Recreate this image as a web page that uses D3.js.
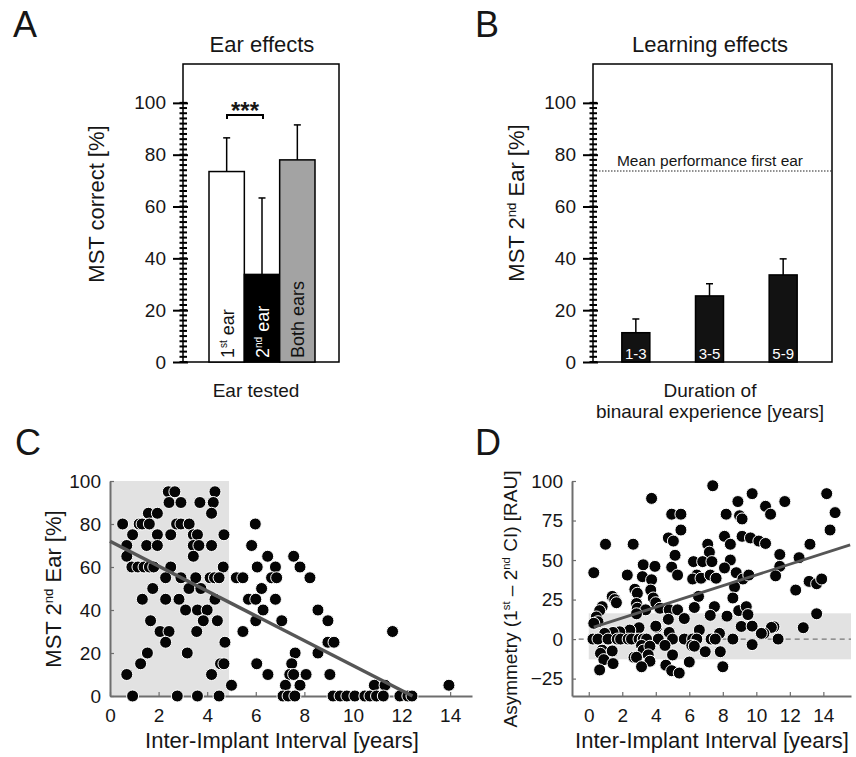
<!DOCTYPE html>
<html>
<head>
<meta charset="utf-8">
<title>MST ear effects</title>
<script src="https://d3js.org/d3.v7.min.js"></script>
<style>
  body { margin: 0; background: #fff; }
  svg text { font-family: "Liberation Sans", Arial, sans-serif; fill: #161616; }
</style>
</head>
<body>
<svg width="856" height="757"></svg>
<script>
// ---- data ----
// A: ear effects
var earCats = ["1st ear", "2nd ear", "Both ears"];
var earMean = [73.5, 33.8, 78];
var earSd = [13, 29.5, 13.5];
// B: learning effects
var learnCats = ["1-3", "3-5", "5-9"];
var learnMean = [11.3, 25.5, 33.6];
var learnSd = [5.3, 4.7, 6.2];
var firstEarMean = 73.7;
var abTicks = [0, 20, 40, 60, 80, 100];

// C: MST 2nd ear vs inter-implant interval  [years, %]
var cPoints = [
  [2.4,95],[2.67,95],[4.32,95],
  [2.43,90],[2.92,90],[3.7,90],[4.25,90],
  [1.58,85],[1.95,85],[4.18,85],
  [0.52,80],[1.2,80],[1.32,80],[1.62,80],[2.74,80],[2.92,80],[3.26,80],[5.98,80],
  [0.93,75],[1.95,75],[2.5,75],[3.43,75],[3.6,75],[4.69,75],
  [0.69,70],[1.51,70],[1.95,70],[3.43,70],[3.66,70],[4.18,70],[5.83,70],
  [0.69,65],[3.43,65],[6.49,65],[7.56,65],
  [0.9,60],[1.15,60],[1.4,60],[1.62,60],[1.8,60],[2.5,60],[4.66,60],[6.06,60],[6.81,60],[7.82,60],
  [2.29,55],[2.92,55],[3.53,55],[4.12,55],[4.3,55],[4.49,55],[5.2,55],[5.47,55],[6.65,55],[6.86,55],[8.23,55],
  [1.76,50],[3.25,50],[3.74,50],[6.24,50],
  [1.33,45],[2.29,45],[2.84,45],[4.32,45],[5.7,45],[6.0,45],[6.81,45],
  [3.11,40],[3.6,40],[4.0,40],[6.3,40],[8.56,40],
  [1.67,35],[3.84,35],[4.42,35],[6.0,35],[7.07,35],[8.97,35],
  [2.06,30],[2.43,30],[3.57,30],[5.47,30],[11.63,30],
  [2.29,25],[4.73,25],[8.97,25],[9.22,25],
  [1.54,20],[3.18,20],[7.62,20],[8.56,20],
  [1.26,15],[4.55,15],[4.69,15],[6.04,15],[7.48,15],
  [0.69,10],[4.18,10],[6.5,10],[7.4,10],[7.56,10],[8.07,10],[9.05,10],
  [5.0,5],[7.22,5],[7.82,5],[10.88,5],[11.32,5],[13.95,5],
  [0.93,0],[2.77,0],[3.6,0],[4.49,0],[7.12,0],[7.33,0],[7.61,0],[9.18,0],[9.47,0],[9.75,0],
  [10.08,0],[10.49,0],[10.7,0],[10.97,0],[11.25,0],[11.93,0],[12.26,0],[12.43,0]
];
var cFit = [[0, 72], [12.45, 0]];
var cShadeX = [0, 4.9], cShadeY = [0, 100];
var cXTicks = [0, 2, 4, 6, 8, 10, 12, 14];
var cYTicks = [0, 20, 40, 60, 80, 100];

// D: asymmetry vs inter-implant interval  [years, RAU]
var dPoints = [
  [7.4,97],[3.75,89],[4.95,79],[5.5,79],[9.75,92],[14.2,92],[8.9,87],[11.7,87],[10.55,84],[10.85,79],
  [8.2,79],[9.0,78],[9.15,76],[14.7,80],[14.4,69],[5.5,69],[4.75,64],[5.05,62],[8.1,65],[9.15,65],
  [9.65,64],[10.15,62],[10.55,60.5],[8.45,60],[13.2,60],[1.0,60],[2.65,60],[7.1,60],[5.15,53],[7.2,55],
  [11.4,53.5],[12.55,51.5],[6.25,49],[6.8,49],[7.35,49],[8.45,50],[3.25,47],[3.95,46],[4.95,45.5],[8.1,45],
  [11.4,46],[0.3,42],[2.3,40.5],[3.2,39.5],[3.75,37.5],[5.3,40.5],[6.45,40.5],[6.2,38],[6.7,38.5],[7.25,40.5],
  [7.6,38.5],[8.8,42],[9.2,38],[9.55,40.5],[11.15,40],[2.75,31.5],[2.9,29],[3.7,31],[8.7,33],[12.35,31],
  [13.15,36.5],[13.6,35],[13.9,38],[1.4,27],[1.55,25],[1.65,23],[3.85,26],[4.0,23],[6.55,27],[8.6,26],
  [2.85,22.5],[2.9,19.5],[3.4,18.5],[4.25,19.5],[4.8,18.5],[5.3,18.5],[6.3,20],[7.5,20.5],[8.95,18],[9.4,20.5],
  [0.8,20.5],[0.65,18],[0.45,14],[0.55,11],[0.3,10],[2.85,16],[4.75,12.5],[5.7,13],[7.25,15],[8.25,14.5],
  [9.5,15.5],[13.6,16],
  [4.05,7.5],[3.0,7.2],[2.45,5.7],[1.85,4.6],[1.45,4.2],[0.95,3.6],[4.8,4.2],[6.6,5.7],[7.8,3.6],[9.1,8],
  [9.75,8.2],[11.05,7.8],[10.9,7.4],[12.8,7.2],[10.45,3.6],[10.3,3.6],[4.0,8.2],
  [0.25,0],[0.55,0],[1.15,0],[1.7,0],[1.9,0],[2.35,0],[2.55,0],[3.0,0],[3.25,0],[3.45,0],
  [4.15,0],[5.0,0],[5.7,0],[6.2,0],[6.45,0],[7.3,0],[7.55,0],[8.6,0],[11.3,0],
  [3.15,-4],[3.25,-7],[3.65,-4.5],[4.55,-4],[6.15,-4],[6.3,-4.5],[6.95,-8],[7.85,-8],[9.75,-3.5],[0.8,-7],
  [1.4,-7.5],[0.7,-9],[0.9,-13],[1.45,-15.5],[0.65,-19.5],[2.7,-11.5],[2.85,-11.5],[3.55,-10],[3.65,-14],[3.15,-17.5],
  [5.0,-10],[4.6,-16.5],[4.95,-20],[5.4,-21.5],[6.0,-14.5],[8.0,-17.5]
];
var dFit = [[0.3, 7.6], [15.6, 59.6]];
var dShadeX = [0, 15.65], dShadeY = [-12.8, 16.3];
var dXTicks = [0, 2, 4, 6, 8, 10, 12, 14];
var dYTicks = [-25, 0, 25, 50, 75, 100];

var svg = d3.select("svg");

// panel letters
[["A", 13, 37], ["B", 475, 37], ["C", 15, 455], ["D", 475, 455]].forEach(function(p) {
  svg.append("text").attr("x", p[1]).attr("y", p[2])
    .style("font-size", "36px").text(p[0]);
});

// vertical label helper with superscript
function vLabel(x, y, parts, size) {
  var t = svg.append("text")
    .attr("transform", "translate(" + x + "," + y + ")rotate(-90)")
    .attr("text-anchor", "middle").style("font-size", size + "px");
  parts.forEach(function(p) {
    if (p.sup) {
      t.append("tspan").attr("dy", -size * 0.38).style("font-size", (size * 0.6) + "px").text(p.t);
    } else {
      t.append("tspan").attr("dy", p.after ? size * 0.38 : 0).text(p.t);
    }
  });
  return t;
}

// ---- bar panels (A, B) ----
var yAB = d3.scaleLinear().domain([0, 115]).range([362, 64]);

function barFrame(x0, x1, title, titleX) {
  svg.append("rect").attr("x", x0).attr("y", yAB(115)).attr("width", x1 - x0)
    .attr("height", yAB(0) - yAB(115))
    .attr("fill", "none").attr("stroke", "#000").attr("stroke-width", 1.5);
  // minor ticks crossing the axis
  svg.append("g").selectAll("line").data(d3.range(0, 101, 2)).join("line")
    .attr("x1", x0 - 3.5).attr("x2", x0 + 4)
    .attr("y1", function(d) { return yAB(d); }).attr("y2", function(d) { return yAB(d); })
    .attr("stroke", "#000").attr("stroke-width", 2);
  var ax = svg.append("g").attr("transform", "translate(" + x0 + ",0)")
    .call(d3.axisLeft(yAB).tickValues(abTicks).tickSizeInner(10).tickSizeOuter(0).tickPadding(7));
  ax.select(".domain").remove();
  ax.selectAll(".tick line").attr("stroke", "#000").attr("stroke-width", 2).attr("x2", -10).attr("x1", 5);
  ax.selectAll(".tick text").style("font-size", "19px").attr("fill", "#161616");
  svg.append("text").attr("x", titleX).attr("y", 52).attr("text-anchor", "middle")
    .style("font-size", "22px").text(title);
}

// Panel A
barFrame(183, 339, "Ear effects", 262);
var xA = d3.scaleBand().domain(earCats).range([209, 315]).padding(0);
var aFill = ["#ffffff", "#000000", "#a3a3a3"];
var aText = ["#111", "#fff", "#111"];
earCats.forEach(function(c, i) {
  var cx = xA(c) + xA.bandwidth() / 2;
  svg.append("line").attr("x1", cx).attr("x2", cx)
    .attr("y1", yAB(earMean[i])).attr("y2", yAB(earMean[i] + earSd[i]))
    .attr("stroke", "#000").attr("stroke-width", 1.5);
  svg.append("line").attr("x1", cx - 3.5).attr("x2", cx + 3.5)
    .attr("y1", yAB(earMean[i] + earSd[i])).attr("y2", yAB(earMean[i] + earSd[i]))
    .attr("stroke", "#000").attr("stroke-width", 1.5);
});
svg.append("g").selectAll("rect").data(earCats).join("rect")
  .attr("x", function(d) { return xA(d); }).attr("width", xA.bandwidth())
  .attr("y", function(d, i) { return yAB(earMean[i]); })
  .attr("height", function(d, i) { return yAB(0) - yAB(earMean[i]); })
  .attr("fill", function(d, i) { return aFill[i]; })
  .attr("stroke", "#000").attr("stroke-width", 1.5);
// rotated labels inside the bars
var aParts = [
  [{t: "1"}, {t: "st", sup: true}, {t: " ear", after: true}],
  [{t: "2"}, {t: "nd", sup: true}, {t: " ear", after: true}],
  [{t: "Both ears"}]
];
earCats.forEach(function(c, i) {
  var cx = xA(c) + xA.bandwidth() / 2;
  var t = svg.append("text")
    .attr("transform", "translate(" + (cx + 7) + "," + (yAB(0) - 4) + ")rotate(-90)")
    .style("font-size", "18px");
  aParts[i].forEach(function(p) {
    var s = t.append("tspan").text(p.t).style("fill", aText[i]);
    if (p.sup) s.attr("dy", -7).style("font-size", "10px");
    if (p.after) s.attr("dy", 7);
  });
});
// significance bracket
svg.append("path").attr("d", "M227,119V115H263V119")
  .attr("fill", "none").attr("stroke", "#000").attr("stroke-width", 2);
svg.append("text").attr("x", 245).attr("y", 119).attr("text-anchor", "middle")
  .style("font-size", "24px").style("font-weight", "bold").text("***");
svg.append("text").attr("x", 256).attr("y", 397).attr("text-anchor", "middle")
  .style("font-size", "19px").text("Ear tested");
vLabel(104, 204, [{t: "MST correct [%]"}], 22);

// Panel B
barFrame(593, 832, "Learning effects", 710);
var xB = d3.scaleBand().domain(learnCats).range([599, 820]).paddingInner(0.62).paddingOuter(0.31);
svg.append("line").attr("x1", 593).attr("x2", 832)
  .attr("y1", yAB(firstEarMean)).attr("y2", yAB(firstEarMean))
  .attr("stroke", "#222").attr("stroke-width", 1.2).attr("stroke-dasharray", "1.5,1.5");
svg.append("text").attr("x", 710).attr("y", 166).attr("text-anchor", "middle")
  .style("font-size", "15.5px").text("Mean performance first ear");
learnCats.forEach(function(c, i) {
  var cx = xB(c) + xB.bandwidth() / 2;
  svg.append("line").attr("x1", cx).attr("x2", cx)
    .attr("y1", yAB(learnMean[i])).attr("y2", yAB(learnMean[i] + learnSd[i]))
    .attr("stroke", "#000").attr("stroke-width", 1.5);
  svg.append("line").attr("x1", cx - 3.5).attr("x2", cx + 3.5)
    .attr("y1", yAB(learnMean[i] + learnSd[i])).attr("y2", yAB(learnMean[i] + learnSd[i]))
    .attr("stroke", "#000").attr("stroke-width", 1.5);
});
svg.append("g").selectAll("rect").data(learnCats).join("rect")
  .attr("x", function(d) { return xB(d); }).attr("width", xB.bandwidth())
  .attr("y", function(d, i) { return yAB(learnMean[i]); })
  .attr("height", function(d, i) { return yAB(0) - yAB(learnMean[i]); })
  .attr("fill", "#121212").attr("stroke", "#000").attr("stroke-width", 1.5);
svg.append("g").selectAll("text").data(learnCats).join("text")
  .attr("x", function(d) { return xB(d) + xB.bandwidth() / 2; }).attr("y", 359)
  .attr("text-anchor", "middle").style("font-size", "15px").style("fill", "#fff")
  .text(function(d) { return d; });
svg.append("text").attr("x", 710).attr("y", 397).attr("text-anchor", "middle")
  .style("font-size", "19px").text("Duration of");
svg.append("text").attr("x", 710).attr("y", 418).attr("text-anchor", "middle")
  .style("font-size", "19px").text("binaural experience [years]");
vLabel(524, 203, [{t: "MST 2"}, {t: "nd", sup: true}, {t: " Ear [%]", after: true}], 22);

// ---- scatter panels (C, D) ----
function scatter(xs, ys, pts, fit, shX, shY, xT, yT, yFmt) {
  var g = svg.append("g");
  g.append("rect").attr("x", xs(shX[0])).attr("width", xs(shX[1]) - xs(shX[0]))
    .attr("y", ys(shY[1])).attr("height", ys(shY[0]) - ys(shY[1]))
    .attr("fill", "#e2e2e2");
  var ay = g.append("g").attr("transform", "translate(" + xs.range()[0] + ",0)")
    .call(d3.axisLeft(ys).tickValues(yT).tickSizeInner(-4).tickSizeOuter(0).tickPadding(9).tickFormat(yFmt));
  var ax = g.append("g").attr("transform", "translate(0," + ys.range()[0] + ")")
    .call(d3.axisBottom(xs).tickValues(xT).tickSizeInner(-4).tickSizeOuter(0).tickPadding(12.5));
  [ax, ay].forEach(function(a) {
    a.select(".domain").attr("stroke", "#6e6e6e").attr("stroke-width", 2);
    a.selectAll(".tick line").attr("stroke", "#6e6e6e").attr("stroke-width", 1.2);
    a.selectAll(".tick text").style("font-size", "19px").attr("fill", "#2a2a2a");
  });
  return g;
}

// Panel C
var xC = d3.scaleLinear().domain([0, 14.9]).range([110, 472]);
var yC = d3.scaleLinear().domain([0, 100]).range([696, 481]);
var gC = scatter(xC, yC, cPoints, cFit, cShadeX, cShadeY, cXTicks, cYTicks, d3.format("d"));
gC.append("g").selectAll("circle").data(cPoints).join("circle")
  .attr("cx", function(d) { return xC(d[0]); }).attr("cy", function(d) { return yC(d[1]); })
  .attr("r", 6).attr("fill", "#050505").attr("stroke", "#fff").attr("stroke-width", 1);
gC.append("line").attr("x1", xC(cFit[0][0])).attr("y1", yC(cFit[0][1]))
  .attr("x2", xC(cFit[1][0])).attr("y2", yC(cFit[1][1]))
  .attr("stroke", "#565656").attr("stroke-width", 3.5);
svg.append("text").attr("x", 282).attr("y", 748).attr("text-anchor", "middle")
  .style("font-size", "22px").text("Inter-Implant Interval [years]");
vLabel(61, 589, [{t: "MST 2"}, {t: "nd", sup: true}, {t: " Ear [%]", after: true}], 22);

// Panel D
var xD = d3.scaleLinear().domain([-1, 15.65]).range([572, 851]);
var yD = d3.scaleLinear().domain([-36, 100]).range([696, 481]);
var gD = scatter(xD, yD, dPoints, dFit, dShadeX, dShadeY, dXTicks, dYTicks, function(d) { return d < 0 ? "\u2212" + Math.abs(d) : d; });
gD.append("line").attr("x1", xD(-0.6)).attr("x2", xD(15.65)).attr("y1", yD(0)).attr("y2", yD(0))
  .attr("stroke", "#777").attr("stroke-width", 1.3).attr("stroke-dasharray", "5,4");
gD.append("g").selectAll("circle").data(dPoints).join("circle")
  .attr("cx", function(d) { return xD(d[0]); }).attr("cy", function(d) { return yD(d[1]); })
  .attr("r", 6).attr("fill", "#050505").attr("stroke", "#fff").attr("stroke-width", 1);
gD.append("line").attr("x1", xD(dFit[0][0])).attr("y1", yD(dFit[0][1]))
  .attr("x2", xD(dFit[1][0])).attr("y2", yD(dFit[1][1]))
  .attr("stroke", "#565656").attr("stroke-width", 2.8);
svg.append("text").attr("x", 712).attr("y", 748).attr("text-anchor", "middle")
  .style("font-size", "22px").text("Inter-Implant Interval [years]");
vLabel(517, 599, [{t: "Asymmetry (1"}, {t: "st", sup: true}, {t: " \u2013 2", after: true}, {t: "nd", sup: true}, {t: " CI) [RAU]", after: true}], 19);
</script>
</body>
</html>
